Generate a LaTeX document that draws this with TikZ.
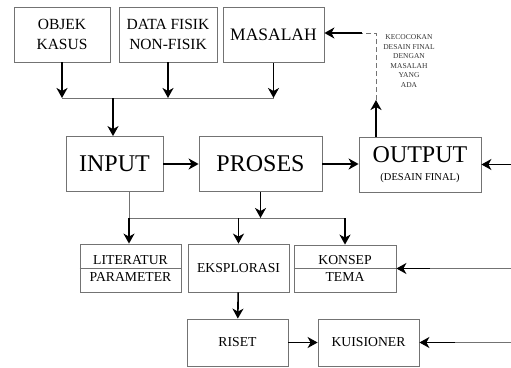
\documentclass[tikz,border=0pt]{standalone}
\usepackage{fontspec}
\setmainfont{Liberation Serif}
\usetikzlibrary{arrows.meta,calc}
\tikzset{
  bx/.style={draw=black!55, line width=0.8pt, align=center, inner sep=2pt},
  topbox/.style={bx, minimum height=55, font=\fontsize{15.5}{19.5}\selectfont},
  mainbox/.style={bx, minimum height=55, font=\fontsize{24}{26}\selectfont},
  subbox/.style={bx, minimum width=101, minimum height=47, font=\fontsize{13.7}{17}\selectfont},
  flow/.style={-{Stealth[length=10pt, width=11pt, inset=3pt]}, line width=1.6pt, draw=black},
  link/.style={line width=0.8pt, draw=black!55},
  fback/.style={line width=0.8pt, draw=black!55, dash pattern=on 5pt off 3pt},
  note/.style={font=\fontsize{7.5}{9.6}\selectfont, text=black!80, align=center},
}
\begin{document}
\begin{tikzpicture}[x=1pt, y=-1pt]
      \useasboundingbox (0,0) rectangle (511,367);
      \node[topbox, minimum width=96] (obj) at (62,34.5) {OBJEK\\KASUS};
      \node[topbox, minimum width=98] (dat) at (168,34.5) {DATA FISIK\\NON-FISIK};
      \node[topbox, minimum width=101, font=\fontsize{17.5}{20}\selectfont] (mas) at (273.5,35) {MASALAH};
      \node[mainbox, minimum width=97] (inp) at (114.5,164) {INPUT};
      \node[mainbox, minimum width=123] (pro) at (260.5,164) {PROSES};
      \node[mainbox, minimum width=122] (out) at (420,164.5)
        {OUTPUT\\[-8pt]{\fontsize{10.5}{12}\selectfont (DESAIN FINAL)}};
      \node[subbox, minimum height=48] (lit) at (130.5,268) {LITERATUR\\PARAMETER};
      \node[subbox, minimum height=48] (eks) at (238.5,268) {EKSPLORASI};
      \node[subbox, minimum width=102] (kon) at (345,268.5) {KONSEP\\TEMA};
      \node[subbox] (ris) at (237.5,342.5) {RISET};
      \node[subbox] (kui) at (368.5,342.5) {KUISIONER};
      \draw[link] (lit.west) -- (lit.east);
      \draw[link] (kon.west) -- (kon.east);
      \coordinate (j1) at (113,98);
      \coordinate (j2) at (129,218);
      \draw[flow] (obj.south) -- (obj.south |- j1);
      \draw[flow] (dat.south) -- (dat.south |- j1);
      \draw[flow] (mas.south) -- (mas.south |- j1);
      \draw[link] (obj.south |- j1) -- (mas.south |- j1);
      \draw[flow] (j1) -- (inp.north -| j1);
      \draw[flow] (inp) -- (pro);
      \draw[flow] (pro) -- (out.west |- pro);
      \coordinate (oin) at (511,164.5);
      \draw[flow] (oin) -- (out.east);
      \draw[link] (inp.south -| j2) -- (j2) -- (kon.north |- j2);
      \draw[flow] (pro.south) -- (pro.south |- j2);
      \draw[flow] (j2) -- (lit.north -| j2);
      \draw[flow] (eks.north |- j2) -- (eks.north);
      \draw[flow] (kon.north |- j2) -- (kon.north);
      \draw[flow] (eks) -- (ris);
      \draw[flow] (ris) -- (kui);
      \coordinate (kin) at (511,268.5);
      \coordinate (kth) at (430,268.5);
      \draw[link] (kin) -- (kth);
      \draw[flow] (kth) -- (kon.east);
      \coordinate (uin) at (511,342.5);
      \coordinate (uth) at (455,342.5);
      \draw[link] (uin) -- (uth);
      \draw[flow] (uth) -- (kui.east);
      \coordinate (fb) at (376,100);
      \coordinate (fbtop) at (376,33);
      \coordinate (fbend) at (362,33);
      \draw[flow] (out.north -| fb) -- (fb);
      \draw[fback] (fb) -- (fbtop) -- (fbend);
      \draw[flow] (fbend) -- (mas.east |- fbend);
      \node[note] (kec) at (409,61) {KECOCOKAN\\DESAIN FINAL\\DENGAN\\MASALAH\\YANG\\ADA};
    \end{tikzpicture}
\end{document}
